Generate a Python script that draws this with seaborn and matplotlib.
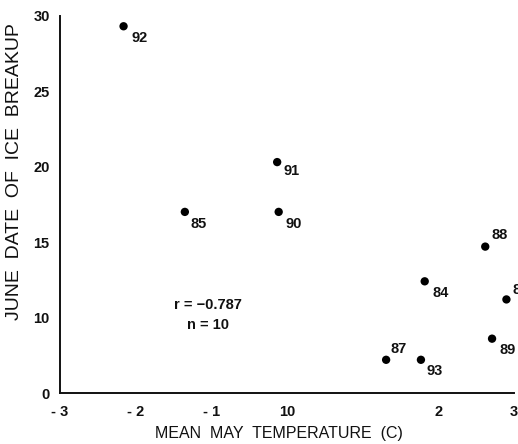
import matplotlib
matplotlib.use("Agg")
import matplotlib.pyplot as plt
import seaborn as sns
import pandas as pd

# Data
years = ["92", "91", "85", "90", "88", "84", "86", "89", "93", "87"]
may_temp = [-2.16, -0.13, -1.35, -0.11, 2.62, 1.82, 2.90, 2.71, 1.77, 1.31]
june_breakup = [29.3, 20.3, 17.0, 17.0, 14.7, 12.4, 11.2, 8.6, 7.2, 7.2]
label_dx = [16, 14, 14, 15, 14, 16, 14, 16, 14, 13]
label_dy = [-12, -9, -12, -12, 12, -12, 9, -11, -11, 11]

x_ticks = [-3, -2, -1, 0, 1, 2, 3]
x_ticklabels = ["- 3", "- 2", "- 1", "10", "", "2", "3"]
y_ticks = [5, 10, 15, 20, 25, 30]
y_ticklabels = ["0", "10", "15", "20", "25", "30"]

df = pd.DataFrame({"temp": may_temp, "date": june_breakup, "year": years})

sns.set_theme(style="white")
plt.rcParams["font.family"] = ["Liberation Sans", "DejaVu Sans"]

fig = plt.figure(figsize=(5.18, 4.44), dpi=100)
ax = fig.add_axes([60 / 518, 51 / 444, 454 / 518, 377.3 / 444])

sns.scatterplot(data=df, x="temp", y="date", color="black", s=36,
                edgecolor="none", ax=ax, legend=False, clip_on=False)

for xv, yv, lab, dx, dy in zip(may_temp, june_breakup, years, label_dx, label_dy):
    ax.annotate(lab, (xv, yv), xytext=(dx, dy), textcoords="offset pixels",
                ha="center", va="center", fontsize=10.5, color="#111111",
                fontweight="bold", annotation_clip=False)

ax.text(-1.04, 10.8, "r = \u22120.787", ha="center", va="center",
        fontsize=10.5, color="#111111", fontweight="bold")
ax.text(-1.04, 9.5, "n = 10", ha="center", va="center",
        fontsize=10.5, color="#111111", fontweight="bold")

ax.set_xlim(-3, 3)
ax.set_ylim(5, 30)
ax.set_xticks(x_ticks)
ax.set_xticklabels(x_ticklabels)
ax.set_yticks(y_ticks)
ax.set_yticklabels(y_ticklabels)

for side in ["top", "right"]:
    ax.spines[side].set_visible(False)
for side in ["left", "bottom"]:
    ax.spines[side].set_color("#111111")
    ax.spines[side].set_linewidth(1.4)

ax.tick_params(axis="both", which="both", direction="out", length=5.5,
               width=1.4, color="#111111", labelsize=10.5,
               labelcolor="#111111", pad=2)
ax.tick_params(axis="x", pad=3)
for t in ax.get_xticklabels() + ax.get_yticklabels():
    t.set_fontweight("bold")

ax.set_xlabel("MEAN  MAY  TEMPERATURE  (C)", fontsize=11.5, color="#111111")
ax.xaxis.set_label_coords(0.482, -0.088)
ax.set_ylabel("JUNE  DATE  OF  ICE  BREAKUP", fontsize=14, color="#111111")
ax.yaxis.set_label_coords(-0.0815, 0.586)
ax.grid(False)

fig.savefig("out.png", dpi=100)
